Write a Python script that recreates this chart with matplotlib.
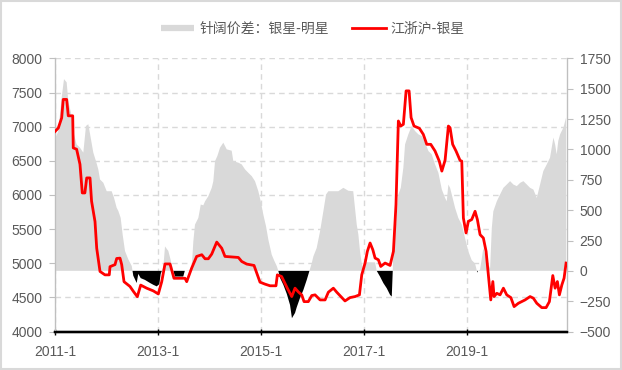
import matplotlib
matplotlib.use("Agg")
import matplotlib.pyplot as plt
from matplotlib.lines import Line2D
from matplotlib.patches import Rectangle
import numpy as np

# ---------------- data ----------------
# time axis in decimal years
red_year = [2011.00, 2011.064, 2011.13, 2011.16, 2011.227, 2011.258, 2011.344, 2011.355, 2011.42, 2011.485,
            2011.53, 2011.58, 2011.616, 2011.68, 2011.71, 2011.777, 2011.81, 2011.874, 2011.97, 2012.054,
            2012.068, 2012.165, 2012.198, 2012.262, 2012.295, 2012.34, 2012.456, 2012.52, 2012.598, 2012.664,
            2012.78, 2012.909, 2013.006, 2013.072, 2013.136, 2013.233, 2013.31, 2013.524, 2013.557, 2013.654,
            2013.75, 2013.85, 2013.913, 2013.977, 2014.043, 2014.14, 2014.237, 2014.30, 2014.56, 2014.625,
            2014.722, 2014.864, 2014.98, 2015.078, 2015.175, 2015.29, 2015.317, 2015.40, 2015.51, 2015.596,
            2015.66, 2015.724, 2015.79, 2015.835, 2015.918, 2015.985, 2016.049, 2016.146, 2016.243, 2016.307,
            2016.404, 2016.47, 2016.567, 2016.63, 2016.728, 2016.825, 2016.91, 2016.955, 2017.02, 2017.064,
            2017.117, 2017.17, 2017.214, 2017.278, 2017.324, 2017.408, 2017.505, 2017.57, 2017.62, 2017.666,
            2017.713, 2017.763, 2017.816, 2017.874, 2017.913, 2017.97, 2018.074, 2018.15, 2018.217, 2018.295,
            2018.378, 2018.46, 2018.51, 2018.573, 2018.637, 2018.67, 2018.72, 2018.786, 2018.864, 2018.897,
            2018.928, 2018.98, 2019.025, 2019.09, 2019.155, 2019.2, 2019.252, 2019.316, 2019.369, 2019.413,
            2019.46, 2019.5, 2019.524, 2019.577, 2019.64, 2019.705, 2019.77, 2019.85, 2019.913, 2019.996,
            2020.062, 2020.126, 2020.223, 2020.287, 2020.353, 2020.45, 2020.534, 2020.598, 2020.664, 2020.709,
            2020.753, 2020.792, 2020.84, 2020.883, 2020.922]
red_price = [6930, 6980, 7130, 7400, 7400, 7160, 7160, 6690, 6670, 6450,
             6030, 6030, 6250, 6250, 5910, 5610, 5220, 4880, 4830, 4830,
             4950, 4980, 5070, 5075, 4980, 4730, 4660, 4590, 4510, 4680,
             4635, 4595, 4550, 4730, 4990, 4990, 4780, 4780, 4730, 4930,
             5100, 5125, 5066, 5066, 5135, 5310, 5220, 5100, 5085, 5026,
             4988, 4968, 4723, 4694, 4670, 4670, 4830, 4806, 4635, 4512,
             4635, 4580, 4537, 4438, 4438, 4527, 4537, 4463, 4463, 4576,
             4635, 4576, 4497, 4448, 4497, 4512, 4537, 4830, 5003, 5174,
             5297, 5198, 5076, 5051, 4953, 5003, 4968, 5174, 5860, 7084,
             7010, 7035, 7525, 7525, 7134, 7010, 6977, 6888, 6742, 6742,
             6644, 6496, 6350, 6510, 7010, 6985, 6742, 6643, 6506, 6496,
             5664, 5444, 5614, 5640, 5761, 5640, 5419, 5370, 5174, 4830,
             4463, 4732, 4512, 4560, 4537, 4635, 4537, 4497, 4365, 4414,
             4438, 4463, 4512, 4488, 4414, 4350, 4350, 4438, 4820, 4635,
             4732, 4537, 4683, 4782, 5003]

spread_year = [2011.000, 2011.064, 2011.13, 2011.175, 2011.227, 2011.258, 2011.324, 2011.369, 2011.42, 2011.485,
               2011.55, 2011.602, 2011.647, 2011.693, 2011.744, 2011.796, 2011.841, 2011.874, 2011.938, 2012.004,
               2012.10, 2012.146, 2012.198, 2012.229, 2012.275, 2012.314, 2012.359, 2012.423, 2012.49, 2012.52,
               2012.586, 2012.617, 2012.664, 2012.748, 2012.845, 2012.909, 2012.975, 2013.025, 2013.052, 2013.103,
               2013.136, 2013.2, 2013.247, 2013.285, 2013.33, 2013.49, 2013.52, 2013.62, 2013.654, 2013.686,
               2013.718, 2013.783, 2013.83, 2013.88, 2013.913, 2013.977, 2014.043, 2014.074, 2014.107, 2014.152,
               2014.204, 2014.268, 2014.334, 2014.43, 2014.462, 2014.56, 2014.625, 2014.689, 2014.753, 2014.82,
               2014.883, 2014.948, 2014.994, 2015.045, 2015.097, 2015.142, 2015.208, 2015.252, 2015.305, 2015.336,
               2015.369, 2015.433, 2015.5, 2015.563, 2015.60, 2015.66, 2015.693, 2015.757, 2015.82, 2015.887,
               2015.94, 2015.985, 2016.016, 2016.08, 2016.146, 2016.21, 2016.262, 2016.307, 2016.5, 2016.598,
               2016.695, 2016.79, 2016.858, 2016.89, 2016.922, 2016.955, 2016.987, 2017.052, 2017.214, 2017.246,
               2017.31, 2017.375, 2017.44, 2017.505, 2017.538, 2017.557, 2017.57, 2017.62, 2017.666, 2017.713,
               2017.763, 2017.796, 2017.86, 2017.926, 2017.99, 2018.054, 2018.12, 2018.184, 2018.25, 2018.314,
               2018.378, 2018.443, 2018.51, 2018.573, 2018.605, 2018.637, 2018.67, 2018.703, 2018.767, 2018.83,
               2018.897, 2018.96, 2019.025, 2019.09, 2019.155, 2019.19, 2019.2, 2019.21, 2019.252, 2019.316,
               2019.38, 2019.447, 2019.48, 2019.51, 2019.577, 2019.64, 2019.705, 2019.77, 2019.835, 2019.9,
               2019.965, 2020.03, 2020.093, 2020.16, 2020.223, 2020.287, 2020.353, 2020.417, 2020.48, 2020.547,
               2020.61, 2020.676, 2020.709, 2020.74, 2020.77, 2020.806, 2020.87, 2020.922]
spread_value = [1084, 1152, 1428, 1580, 1553, 1400, 1276, 1125, 1042, 1015,
                974, 1194, 1208, 1098, 974, 904, 836, 753, 726, 656,
                656, 602, 519, 494, 437, 298, 164, 95, 40, -40,
                -100, -25, -60, -75, -100, -115, -128, -110, -25, 30,
                201, 164, 88, 20, -47, -47, 0, 5, 23, 243,
                381, 436, 546, 540, 573, 615, 684, 739, 904, 946,
                1015, 1056, 1001, 990, 904, 891, 877, 836, 808, 780,
                739, 656, 573, 463, 367, 257, 133, 88, 40, 0,
                -58, -115, -190, -281, -390, -347, -300, -223, -160, -75,
                0, 64, 119, 188, 326, 491, 629, 656, 656, 684,
                660, 656, 381, 298, 160, 60, 0, 70, 70, 0,
                -47, -101, -143, -198, -212, 0, 188, 381, 629, 684,
                850, 1042, 1125, 1194, 1152, 1125, 1111, 1056, 987, 960,
                877, 808, 670, 601, 573, 711, 684, 629, 519, 436,
                381, 271, 160, 88, 60, 0, -15, 0, 10, 188,
                88, 20, 353, 491, 573, 629, 684, 711, 739, 711,
                698, 725, 739, 711, 684, 670, 601, 711, 822, 877,
                932, 1098, 1042, 960, 1070, 1125, 1180, 1263]

x_tick_years = [2011, 2013, 2015, 2017, 2019]
x_tick_labels = ["2011-1", "2013-1", "2015-1", "2017-1", "2019-1"]
left_ticks = [4000, 4500, 5000, 5500, 6000, 6500, 7000, 7500, 8000]
right_ticks = [-500, -250, 0, 250, 500, 750, 1000, 1250, 1500, 1750]

label_spread = "针阔价差：银星-明星"
label_red = "江浙沪-银星"

# ---------------- style ----------------
GRAY_TXT = "#595959"
GRID = "#D9D9D9"
BAR_GRAY = "#D9D9D9"
plt.rcParams["font.family"] = ["Liberation Sans", "Noto Sans CJK SC", "DejaVu Sans"]

fig = plt.figure(figsize=(6.22, 3.70), dpi=100)
ax = fig.add_axes([0.0884, 0.104, 0.8232, 0.738])
ax2 = ax.twinx()
ax3 = ax.twinx()

xmin, xmax = 2011.0, 2020.94

# base axis: grid + left ticks
ax.set_xlim(xmin, xmax)
ax.set_ylim(4000, 8000)
ax.set_yticks(left_ticks)
ax.set_xticks(x_tick_years)
ax.set_xticklabels(x_tick_labels)
ax.grid(True, color=GRID, linestyle=(0, (4, 3)), linewidth=1.0)
ax.set_axisbelow(True)
ax.tick_params(axis="y", colors=GRAY_TXT, labelsize=10, length=4, width=0.8, pad=5)
ax.tick_params(axis="y", color="#BFBFBF")
ax.tick_params(axis="x", colors="black", labelcolor=GRAY_TXT, labelsize=10, length=4, width=1.0,
               direction="inout", pad=8)

# spread area (right axis)
sy = np.array(spread_year)
sv = np.array(spread_value, dtype=float)
ax2.fill_between(sy, 0, sv, where=sv >= 0, interpolate=True, color=BAR_GRAY, linewidth=0, zorder=1)
ax2.fill_between(sy, 0, sv, where=sv <= 0, interpolate=True, color="black", linewidth=0, zorder=1)
ax2.set_ylim(-500, 1750)
ax2.set_yticks(right_ticks)
ax2.set_xlim(xmin, xmax)
ax2.tick_params(axis="y", colors=GRAY_TXT, labelsize=10, length=4, width=0.8, pad=5)
ax2.tick_params(axis="y", color="#BFBFBF")

# red line on top
ax3.plot(red_year, red_price, color="#FF0000", linewidth=2.0, zorder=3)
ax3.set_ylim(4000, 8000)
ax3.set_xlim(xmin, xmax)
ax3.set_yticks([])

for a in (ax, ax2, ax3):
    a.spines["top"].set_visible(False)
    a.spines["left"].set_color("#BFBFBF")
    a.spines["right"].set_color("#BFBFBF")
    a.spines["bottom"].set_color("black")
    a.spines["bottom"].set_linewidth(1.6)
    a.spines["bottom"].set_zorder(5)

# legend
handles = [Line2D([], [], color=BAR_GRAY, linewidth=4.5, solid_capstyle="butt"),
           Line2D([], [], color="#FF0000", linewidth=2.0)]
fig.legend(handles, [label_spread, label_red], loc="center", bbox_to_anchor=(0.503, 0.922),
           ncol=2, frameon=False, handlelength=2.4, handletextpad=0.35, columnspacing=1.7,
           prop={"family": ["Noto Sans CJK SC", "DejaVu Sans"], "size": 10}, labelcolor=GRAY_TXT)

# figure frame
fig.patches.append(Rectangle((0.002, 0.003), 0.996, 0.994, transform=fig.transFigure, fill=False,
                             edgecolor="#D9D9D9", linewidth=1.5))

fig.savefig("out.png", dpi=100)
